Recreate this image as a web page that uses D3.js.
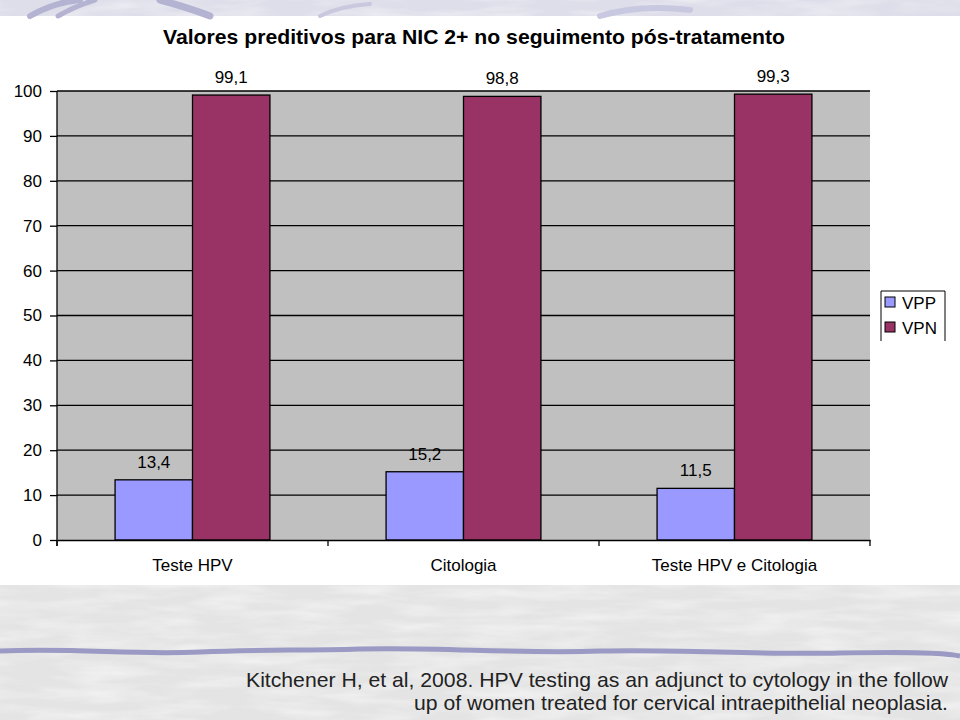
<!DOCTYPE html>
<html><head><meta charset="utf-8">
<script src="https://cdn.jsdelivr.net/npm/d3@7"></script>
<style>body{margin:0;background:#fff}svg{display:block}</style>
</head><body>
<svg id="c" width="960" height="720"></svg>
<script>
const categories = ["Teste HPV", "Citologia", "Teste HPV e Citologia"];
const seriesNames = ["VPP", "VPN"];
const vppValues = [13.4, 15.2, 11.5];
const vpnValues = [99.1, 98.8, 99.3];
const seriesColors = ["#9999ff", "#993366"];
const yTicks = [0, 10, 20, 30, 40, 50, 60, 70, 80, 90, 100];
const titleText = "Valores preditivos para NIC 2+ no seguimento pós-tratamento";
const captionLines = ["Kitchener H, et al, 2008. HPV testing as an adjunct to cytology in the follow",
                      "up of women treated for cervical intraepithelial neoplasia."];

(function(){
const svg = d3.select("#c");
const font = "'Liberation Sans', Arial, sans-serif";

// slide background decoration
const defs = svg.append("defs");
const f = defs.append("filter").attr("id","noise").attr("x",0).attr("y",0).attr("width","100%").attr("height","100%");
f.append("feTurbulence").attr("type","fractalNoise").attr("baseFrequency","0.015 0.09").attr("numOctaves",3).attr("seed",4);
f.append("feColorMatrix").attr("type","matrix").attr("values","0 0 0 0 1  0 0 0 0 1  0 0 0 0 1  0 0 0 1.2 -0.45");
svg.append("rect").attr("x",0).attr("y",0).attr("width",960).attr("height",16).attr("fill","#dedeea");
svg.append("rect").attr("x",0).attr("y",0).attr("width",960).attr("height",16).attr("filter","url(#noise)").attr("opacity",0.7);
svg.append("rect").attr("x",0).attr("y",585).attr("width",960).attr("height",135).attr("fill","#e4e4e4");
svg.append("rect").attr("x",0).attr("y",585).attr("width",960).attr("height",135).attr("filter","url(#noise)").attr("opacity",0.8);
const sw = svg.append("g").attr("fill","none").attr("stroke","#b4b4d2").attr("stroke-linecap","round");
sw.append("path").attr("d","M30,16 Q55,2 80,0").attr("stroke-width",6);
sw.append("path").attr("d","M58,16 Q75,6 95,0").attr("stroke-width",5);
sw.append("path").attr("d","M160,0 Q190,8 210,16").attr("stroke-width",7);
sw.append("path").attr("d","M320,16 Q340,6 370,4").attr("stroke-width",4).attr("stroke","#c8c8de");
sw.append("path").attr("d","M600,16 Q640,4 690,10").attr("stroke-width",6).attr("stroke","#c8c8e0");
svg.append("path").attr("d","M0,651 C80,648 130,655 200,652 C260,649 300,651 360,649 C440,647 520,654 600,651 C680,649 760,655 840,653 C900,652 940,652 960,656")
  .attr("fill","none").attr("stroke","#9a9ac4").attr("stroke-width",5);

// title
svg.append("text").attr("x",474).attr("y",44).attr("text-anchor","middle")
  .attr("font-family",font).attr("font-weight","bold").attr("font-size",21)
  .attr("textLength",622).attr("lengthAdjust","spacingAndGlyphs").attr("fill","#000").text(titleText);

// chart
const pL = 57, pR = 870, pT = 91, pB = 540;
const x0 = d3.scaleBand().domain(categories).range([pL, pR]).paddingInner(0).paddingOuter(0);
const barW = x0.bandwidth() / 3.5;
const x1 = d3.scaleBand().domain(seriesNames).range([0, 2 * barW]);
const y = d3.scaleLinear().domain([0, 100]).range([pB, pT]);

svg.append("rect").attr("x",pL).attr("y",pT).attr("width",pR-pL).attr("height",pB-pT).attr("fill","#c0c0c0");
svg.append("g").selectAll("line").data(yTicks.filter(t=>t>0)).join("line")
  .attr("x1",pL).attr("x2",pR).attr("y1",d=>y(d)).attr("y2",d=>y(d))
  .attr("stroke","#000").attr("stroke-width",1.3);

const data = categories.map((c,i)=>({cat:c, vals:[vppValues[i], vpnValues[i]]}));
const groups = svg.append("g").selectAll("g").data(data).join("g")
  .attr("transform", d => `translate(${x0(d.cat) + (x0.bandwidth() - 2*barW)/2},0)`);
groups.selectAll("rect").data(d => d.vals.map((v,j)=>({s:seriesNames[j], v, j}))).join("rect")
  .attr("x", d => x1(d.s)).attr("width", barW)
  .attr("y", d => y(d.v)).attr("height", d => y(0) - y(d.v))
  .attr("fill", d => seriesColors[d.j]).attr("stroke","#000").attr("stroke-width",1.3);
groups.selectAll("text").data(d => d.vals.map((v,j)=>({s:seriesNames[j], v, j}))).join("text")
  .attr("x", d => x1(d.s) + barW/2).attr("y", d => y(d.v) - 12)
  .attr("text-anchor","middle").attr("font-family",font).attr("font-size",17).attr("fill","#000")
  .text(d => String(d.v).replace(".", ","));

// y axis
const yAxis = svg.append("g").attr("transform",`translate(${pL},0)`)
  .call(d3.axisLeft(y).tickValues(yTicks).tickSize(7).tickPadding(8).tickFormat(d=>d));
yAxis.selectAll("path, line").attr("stroke","#000").attr("stroke-width",1.3);
yAxis.select(".domain").attr("d",`M0,${pT}V${pB+6}`);
yAxis.selectAll("text").attr("font-family",font).attr("font-size",17).attr("fill","#000");

// x axis
const xAxis = svg.append("g").attr("transform",`translate(0,${pB})`)
  .call(d3.axisBottom(x0).tickSize(0).tickPadding(19));
xAxis.select(".domain").attr("stroke","#000").attr("stroke-width",1.3);
xAxis.selectAll("text").attr("font-family",font).attr("font-size",17).attr("fill","#000");
const bounds = [pL, ...categories.map(c=>x0(c)+x0.bandwidth())];
xAxis.selectAll(".bt").data(bounds).join("line").attr("class","bt")
  .attr("x1",d=>d).attr("x2",d=>d).attr("y1",0).attr("y2",6).attr("stroke","#000").attr("stroke-width",1.3);

// legend
const lg = svg.append("g");
lg.append("path").attr("d","M881,341V291H945V341").attr("fill","#fff").attr("stroke","#000").attr("stroke-width",1);
seriesNames.forEach((s,i)=>{
  lg.append("rect").attr("x",885).attr("y",297+i*25).attr("width",10).attr("height",10)
    .attr("fill",seriesColors[i]).attr("stroke","#000").attr("stroke-width",1);
  lg.append("text").attr("x",902).attr("y",309+i*25).attr("font-family",font).attr("font-size",17).attr("fill","#000").text(s);
});

// caption
const capLens = [702, 534];
captionLines.forEach((t,i)=>{
  svg.append("text").attr("x",948).attr("y",687+i*23).attr("text-anchor","end")
    .attr("font-family",font).attr("font-size",21).attr("fill","#222")
    .attr("textLength",capLens[i]).attr("lengthAdjust","spacingAndGlyphs").text(t);
});
})();
</script>
</body></html>
